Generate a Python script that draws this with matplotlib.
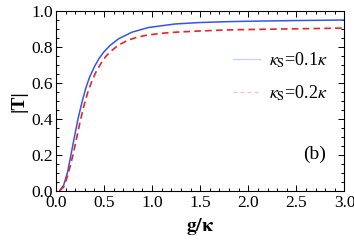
import numpy as np
import matplotlib
matplotlib.use("Agg")
import matplotlib.pyplot as plt
from matplotlib.lines import Line2D
from matplotlib.ticker import MultipleLocator

plt.rcParams["font.family"] = ["Liberation Serif", "DejaVu Serif"]
plt.rcParams["mathtext.fontset"] = "stix"

# ── data ─────────────────────────────────────────────────────────────────────
g_blue = [0.04, 0.08, 0.12, 0.16, 0.20, 0.23, 0.27, 0.31, 0.35, 0.40, 0.45,
          0.50, 0.56, 0.65, 0.79, 0.96, 1.24, 1.50, 1.80, 2.00, 2.50, 3.00]
T_blue = [0.00, 0.03, 0.10, 0.21, 0.32, 0.40, 0.49, 0.57, 0.632, 0.69, 0.737,
          0.773, 0.807, 0.845, 0.882, 0.908, 0.928, 0.936, 0.941, 0.943, 0.947, 0.950]

g_red = [0.04, 0.08, 0.12, 0.15, 0.18, 0.21, 0.25, 0.29, 0.33, 0.37, 0.42,
         0.47, 0.52, 0.58, 0.65, 0.75, 0.85, 0.95, 1.10, 1.24, 1.50, 1.80,
         2.00, 2.50, 3.00]
T_red = [0.00, 0.02, 0.08, 0.14, 0.205, 0.28, 0.38, 0.47, 0.545, 0.605, 0.665,
         0.71, 0.748, 0.78, 0.81, 0.838, 0.855, 0.866, 0.876, 0.882, 0.889, 0.895,
         0.897, 0.901, 0.905]

labels = [r"$\kappa_{\rm S}$=0.1$\kappa$", r"$\kappa_{\rm S}$=0.2$\kappa$"]

# ── figure ───────────────────────────────────────────────────────────────────
fig = plt.figure(figsize=(3.54, 2.45), dpi=100)
ax = fig.add_axes([0.158, 0.222, 0.815, 0.733])

ax.plot(g_blue, T_blue, color="#3355EE", lw=1.1)
ax.plot(g_red, T_red, color="#EE2222", lw=1.2, ls=(0, (4, 2.5)))

ax.set_xlim(0, 3.0)
ax.set_ylim(0, 1.0)
ax.xaxis.set_major_locator(MultipleLocator(0.5))
ax.xaxis.set_minor_locator(MultipleLocator(0.1))
ax.yaxis.set_major_locator(MultipleLocator(0.2))
ax.yaxis.set_minor_locator(MultipleLocator(0.05))
ax.tick_params(which="both", direction="in", top=True, right=True,
               labelsize=12.5, width=0.7)
ax.tick_params(axis="x", pad=3)
ax.tick_params(axis="y", pad=2)
ax.tick_params(which="major", length=4)
ax.tick_params(which="minor", length=2)
for s in ax.spines.values():
    s.set_linewidth(0.8)

ax.set_xlabel(r"$\mathbf{g/\kappa}$", fontsize=14, labelpad=4)
ax.set_ylabel("|T|", fontsize=14, fontweight="bold", labelpad=3)

handles = [Line2D([], [], color="#C8D2FA", lw=1.0),
           Line2D([], [], color="#F8C4C4", lw=1.0, ls=(0, (3, 2)))]
ax.legend(handles, labels, loc="upper right", bbox_to_anchor=(1.0, 0.87),
          frameon=False, fontsize=13, handlelength=1.5, handletextpad=0.5,
          labelspacing=0.75)

ax.text(0.935, 0.2, "(b)", transform=ax.transAxes, fontsize=14,
        ha="right", va="center")

fig.savefig("out.png", dpi=100)
